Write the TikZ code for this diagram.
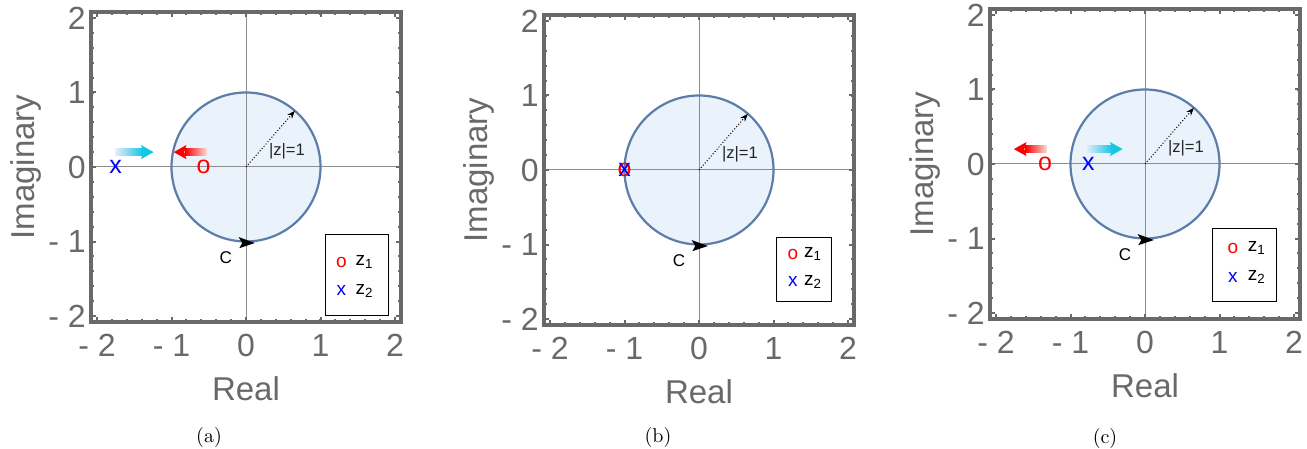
\documentclass[tikz,border=0pt]{standalone}
\usepackage{fontspec}
\setsansfont{Liberation Sans}
\usetikzlibrary{arrows.meta, calc}

\definecolor{framegray}{RGB}{105,105,105}
\definecolor{axisgray}{RGB}{140,140,140}
\definecolor{diskfill}{RGB}{234,242,251}
\definecolor{diskline}{RGB}{92,125,170}
\definecolor{arrowcyan}{RGB}{20,200,228}
\definecolor{arrowpale}{RGB}{228,234,252}
\definecolor{arrowred}{RGB}{250,0,0}
\definecolor{arrowpink}{RGB}{252,215,215}

\tikzset{
  plotframe/.style={draw=framegray, line width=1.6pt},
  tickline/.style={draw=framegray, line width=1pt},
  axisline/.style={draw=axisgray, line width=0.5pt},
  diskline/.style={draw=diskline, line width=1.1pt},
  ticklabel/.style={font=\sffamily\fontsize{16}{18}\selectfont, text=framegray, inner sep=0pt},
  axislabel/.style={font=\sffamily\fontsize{16.5}{19}\selectfont, text=framegray, inner sep=0pt},
  smalllabel/.style={font=\sffamily\fontsize{8.3}{9}\selectfont, text=black!85, inner sep=0pt},
  clabel/.style={font=\sffamily\fontsize{8.5}{9}\selectfont, inner sep=0pt},
  polemark/.style={font=\sffamily\fontsize{12.5}{13}\selectfont, inner sep=0pt},
  legendmark/.style={font=\sffamily\fontsize{9.5}{10}\selectfont, inner sep=0pt},
  legendtext/.style={font=\sffamily\fontsize{9.5}{10}\selectfont, inner sep=0pt},
  legendbox/.style={draw=black, line width=0.5pt},
  radiusarrow/.style={densely dotted, line width=0.5pt, -{Stealth[length=4pt,width=3pt]}},
  captionlabel/.style={font=\rmfamily\fontsize{10}{12}\selectfont, inner sep=0pt}
}

% one z-plane panel: disk, axes, frame, ticks, labels, contour C
\newcommand{\zplane}[1]{%
  % --- DISK AND AXES ---
  \fill[diskfill] (0,0) circle (1);
  \draw[axisline] (-2.08,0) -- (2.08,0);
  \draw[axisline] (0,-2.08) -- (0,2.08);
  \draw[diskline] (0,0) circle (1);
  % --- FRAME AND TICKS ---
  \draw[plotframe] (-2.08,-2.08) rectangle (2.08,2.08);
  \foreach \m in {-2,-1.8,...,2.01} {
    \draw[tickline] (\m,-2.08) -- ++(0,1.5pt);
    \draw[tickline] (\m,2.08) -- ++(0,-1.5pt);
    \draw[tickline] (-2.08,\m) -- ++(1.5pt,0);
    \draw[tickline] (2.08,\m) -- ++(-1.5pt,0);
  }
  \foreach \t in {-2,...,2} {
    \draw[tickline] (\t,-2.08) -- ++(0,2.6pt);
    \draw[tickline] (\t,2.08) -- ++(0,-2.6pt);
    \draw[tickline] (-2.08,\t) -- ++(2.6pt,0);
    \draw[tickline] (2.08,\t) -- ++(-2.6pt,0);
  }
  % --- TICK LABELS ---
  \foreach \t/\lab in {-2/{- 2},-1/{- 1},0/0,1/1,2/2} {
    \node[ticklabel, anchor=north] (#1-x\t) at ([yshift=-6pt]\t,-2.08) {\lab};
    \node[ticklabel, anchor=east] (#1-y\t) at ([xshift=-2.5pt]-2.08,\t) {\lab};
  }
  % --- AXIS TITLES ---
  \node[axislabel, rotate=90] (#1-im) at (-2.96,0) {Imaginary};
  \node[axislabel] (#1-re) at (0,-2.97) {Real};
  % --- RADIUS AND CONTOUR DIRECTION ---
  \coordinate (#1-o) at (0,0);
  \coordinate (#1-r) at (49:1);
  \draw[radiusarrow] (#1-o) -- (#1-r);
  \node[smalllabel] (#1-rl) at (0.55,0.21) {|z|=1};
  \fill (0.12,-1.02) -- (-0.1,-0.94) -- (-0.05,-1.02) -- (-0.09,-1.09) -- cycle;
  \node[clabel] (#1-c) at (-0.27,-1.22) {C};
}

% gradient arrows: tail x, tip x, height
\newcommand{\rightflow}[3]{%
  \shade[left color=arrowpale, right color=arrowcyan] (#1,#3-0.048) rectangle (#2-0.15,#3+0.048);
  \fill[arrowcyan] (#2-0.17,#3+0.095) -- (#2,#3) -- (#2-0.17,#3-0.095) -- (#2-0.14,#3) -- cycle;
}
\newcommand{\leftflow}[3]{%
  \shade[left color=arrowred, right color=arrowpink] (#2+0.15,#3-0.048) rectangle (#1,#3+0.048);
  \fill[arrowred] (#2+0.17,#3+0.095) -- (#2,#3) -- (#2+0.17,#3-0.095) -- (#2+0.14,#3) -- cycle;
}

\begin{document}
\begin{tikzpicture}[x=37.25pt, y=37.25pt]

    \useasboundingbox (0,0) rectangle (653.5pt,-224.5pt);

    % --- PANEL (a): z1 inside, z2 outside ---
    \begin{scope}[shift={(123pt,-83.5pt)}]
        \zplane{a}
        \leftflow{-0.53}{-0.97}{0.2}
        \rightflow{-1.75}{-1.24}{0.2}
        \node[polemark, text=red] (a-z1) at (-0.57,0) {o};
        \node[polemark, text=blue] (a-z2) at (-1.75,0) {x};
        % legend
        \draw[legendbox] (1.07,-0.91) rectangle (1.91,-1.99);
        \node[legendmark, text=red] (a-lo) at (1.28,-1.28) {o};
        \node[legendtext] (a-l1) at (1.59,-1.28) {z\textsubscript{1}};
        \node[legendmark, text=blue] (a-lx) at (1.28,-1.66) {x};
        \node[legendtext] (a-l2) at (1.59,-1.66) {z\textsubscript{2}};
    \end{scope}

    % --- PANEL (b): both on the circle ---
    \begin{scope}[shift={(349.5pt,-85pt)}]
        \zplane{b}
        \node[polemark, text=red] (b-z1) at (-1,0) {o};
        \node[polemark, text=blue] (b-z2) at (-1,0) {x};
        % legend
        \draw[legendbox] (1.04,-0.90) rectangle (1.78,-1.77);
        \node[legendmark, text=red] (b-lo) at (1.26,-1.13) {o};
        \node[legendtext] (b-l1) at (1.53,-1.13) {z\textsubscript{1}};
        \node[legendmark, text=blue] (b-lx) at (1.26,-1.50) {x};
        \node[legendtext] (b-l2) at (1.53,-1.50) {z\textsubscript{2}};
    \end{scope}

    % --- PANEL (c): z1 outside, z2 inside ---
    \begin{scope}[shift={(572.5pt,-82pt)}]
        \zplane{c}
        \leftflow{-1.32}{-1.76}{0.2}
        \rightflow{-0.78}{-0.3}{0.2}
        \node[polemark, text=red] (c-z1) at (-1.34,0) {o};
        \node[polemark, text=blue] (c-z2) at (-0.76,0) {x};
        % legend
        \draw[legendbox] (0.91,-0.86) rectangle (1.76,-1.84);
        \node[legendmark, text=red] (c-lo) at (1.18,-1.13) {o};
        \node[legendtext] (c-l1) at (1.50,-1.13) {z\textsubscript{1}};
        \node[legendmark, text=blue] (c-lx) at (1.18,-1.52) {x};
        \node[legendtext] (c-l2) at (1.50,-1.52) {z\textsubscript{2}};
    \end{scope}

    % --- CAPTIONS ---
    \node[captionlabel] (cap-a) at (104.5pt,-218.5pt) {(a)};
    \node[captionlabel] (cap-b) at (329pt,-218.5pt) {(b)};
    \node[captionlabel] (cap-c) at (552.5pt,-219pt) {(c)};

\end{tikzpicture}
\end{document}
